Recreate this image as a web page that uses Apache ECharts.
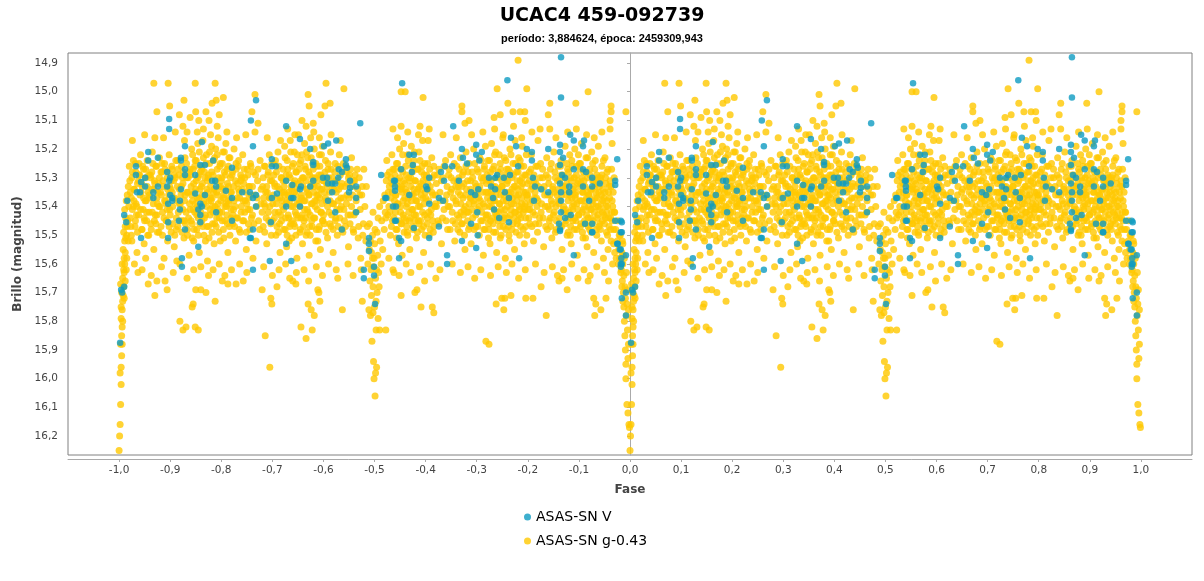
<!DOCTYPE html>
<html>
<head>
<meta charset="utf-8">
<title>UCAC4 459-092739</title>
<script src="https://cdn.jsdelivr.net/npm/echarts@6.0.0/dist/echarts.min.js"></script>
<style>
  html, body { margin: 0; padding: 0; background: #fff; }
  #chart { width: 1204px; height: 581px; }
</style>
</head>
<body>
<div id="chart"></div>
<script>
// Light curve of UCAC4 459-092739, folded on the period.
// Points are [phase, magnitude] for phase 0..1; the chart shows them twice (-1..0 and 0..1).

const titleText = 'UCAC4 459-092739';
const subtitleText = 'período: 3,884624, época: 2459309,943';
const seriesNames = ['ASAS-SN V', 'ASAS-SN g-0.43'];

// ASAS-SN g (shifted by -0.43): primary minimum (egress then ingress)
const gPrimaryMin = [
  [0.000,16.25],[0.001,16.20],[0.002,16.16],[0.003,16.09],[0.004,16.02],[0.004,15.96],[0.005,15.92],[0.003,15.88],
  [0.005,15.85],[0.006,15.82],[0.004,15.79],[0.006,15.76],[0.007,15.73],[0.005,15.70],[0.008,15.68],[0.007,15.65],
  [0.009,15.62],[0.006,15.60],[0.010,15.58],[0.008,15.55],[0.011,15.52],[0.009,15.49],[0.012,15.47],[0.013,15.44],
  [0.011,15.41],[0.014,15.38],[0.016,15.36],[0.015,15.50],[0.017,15.45],[0.018,15.33],[0.019,15.40],[0.012,15.66],
  [0.010,15.72],[0.007,15.80],[0.002,15.98],[0.006,15.88],[0.004,15.75],[0.008,15.71],[0.003,15.67],[0.010,15.63],
  [0.012,15.56],[0.014,15.62],[0.013,15.51],[0.016,15.47],[0.015,15.58],[0.018,15.52],[0.011,15.60],[0.009,15.68],
  [0.970,15.42],[0.972,15.48],[0.975,15.52],[0.976,15.45],[0.978,15.55],[0.980,15.58],[0.981,15.50],[0.983,15.62],
  [0.984,15.56],[0.985,15.66],[0.986,15.60],[0.987,15.70],[0.988,15.64],[0.988,15.75],[0.989,15.80],[0.990,15.68],
  [0.990,15.85],[0.991,15.90],[0.991,15.72],[0.992,15.95],[0.992,16.00],[0.993,15.78],[0.994,16.09],[0.995,15.83],
  [0.996,16.12],[0.997,15.88],[0.998,16.16],[0.999,16.17],[0.996,15.93],[0.994,15.74],[0.986,15.53],[0.989,15.58],
  [0.993,15.63],[0.995,15.69],[0.997,15.76],[0.977,15.60],[0.979,15.50],[0.982,15.63],[0.984,15.68],[0.986,15.73],
  [0.987,15.57],[0.985,15.52],[0.973,15.58]
];

// secondary minimum around phase 0.5
const gSecondaryMin = [
  [0.481,15.40],[0.483,15.52],[0.484,15.33],[0.486,15.47],[0.487,15.60],[0.489,15.76],[0.490,15.55],[0.491,15.66],
  [0.492,15.78],[0.493,15.62],[0.494,15.71],[0.495,15.87],[0.496,15.58],[0.497,15.68],[0.498,15.94],[0.499,16.00],
  [0.500,15.75],[0.501,16.06],[0.502,15.98],[0.502,15.65],[0.503,15.83],[0.504,15.96],[0.505,15.70],[0.506,15.57],
  [0.507,15.79],[0.508,15.63],[0.510,15.83],[0.511,15.52],[0.513,15.60],[0.514,15.45],[0.516,15.55],[0.517,15.38],
  [0.519,15.48],[0.522,15.83],[0.521,15.42],[0.496,15.50],[0.498,15.61],[0.500,15.53],[0.503,15.73],[0.497,15.77],
  [0.505,15.49],[0.492,15.52],[0.509,15.68],[0.490,15.46],[0.494,15.56],[0.497,15.42],[0.499,15.58],[0.501,15.48],
  [0.504,15.62],[0.507,15.44],[0.510,15.40]
];

// out-of-eclipse band, wide scatter
const gMaxima = [
  [0.021,15.31],[0.022,15.44],[0.024,15.37],[0.025,15.52],[0.026,15.28],[0.028,15.40],[0.029,15.34],[0.031,15.47],[0.032,15.25],[0.033,15.39],[0.035,15.56],[0.036,15.32],[0.038,15.43],[0.039,15.29],
  [0.041,15.36],[0.042,15.22],[0.044,15.48],[0.045,15.33],[0.047,15.41],[0.048,15.27],[0.049,15.53],[0.051,15.38],[0.052,15.30],[0.054,15.45],[0.055,15.24],[0.057,15.35],[0.058,15.50],[0.059,15.42],
  [0.061,15.29],[0.062,15.46],[0.064,15.34],[0.065,15.21],[0.067,15.39],[0.068,15.55],[0.069,15.31],[0.071,15.43],[0.072,15.26],[0.074,15.37],[0.075,15.49],[0.077,15.32],[0.078,15.40],[0.079,15.23],
  [0.081,15.35],[0.082,15.47],[0.084,15.28],[0.085,15.42],[0.087,15.33],[0.088,15.58],[0.089,15.25],[0.091,15.38],[0.092,15.45],[0.094,15.30],[0.095,15.52],[0.097,15.36],[0.098,15.22],[0.099,15.41],
  [0.101,15.34],[0.102,15.49],[0.104,15.27],[0.105,15.40],[0.107,15.31],[0.108,15.54],[0.109,15.37],[0.111,15.24],[0.112,15.44],[0.114,15.33],[0.115,15.47],[0.117,15.29],[0.118,15.39],[0.119,15.60],
  [0.121,15.36],[0.122,15.26],[0.124,15.45],[0.125,15.32],[0.127,15.51],[0.128,15.38],[0.129,15.23],[0.131,15.42],[0.132,15.30],[0.134,15.48],[0.135,15.35],[0.137,15.57],[0.138,15.28],[0.139,15.41],
  [0.141,15.33],[0.142,15.20],[0.143,15.46],[0.144,15.38],[0.145,15.27],[0.146,15.52],[0.147,15.35],[0.148,15.42],[0.149,15.24],[0.151,15.31],[0.152,15.48],[0.153,15.37],[0.154,15.18],[0.155,15.44],[0.156,15.29],[0.157,15.56],[0.158,15.34],[0.159,15.40],
  [0.161,15.26],[0.162,15.45],[0.163,15.32],[0.164,15.17],[0.165,15.39],[0.166,15.50],[0.167,15.28],[0.168,15.36],[0.169,15.43],[0.171,15.22],[0.172,15.34],[0.173,15.59],[0.174,15.30],[0.175,15.47],[0.176,15.38],[0.177,15.25],[0.178,15.41],[0.179,15.33],
  [0.181,15.19],[0.182,15.37],[0.183,15.46],[0.184,15.29],[0.185,15.35],[0.186,15.53],[0.187,15.23],[0.188,15.40],[0.189,15.31],[0.191,15.44],[0.192,15.27],[0.193,15.36],[0.194,15.16],[0.195,15.49],[0.196,15.33],[0.197,15.42],[0.198,15.25],[0.199,15.38],
  [0.201,15.30],[0.202,15.45],[0.203,15.21],[0.204,15.37],[0.205,15.51],[0.206,15.28],[0.207,15.40],[0.208,15.34],[0.209,15.18],[0.211,15.43],[0.212,15.32],[0.213,15.56],[0.214,15.26],[0.215,15.39],[0.216,15.47],[0.217,15.23],[0.218,15.35],[0.219,15.41],
  [0.221,15.29],[0.222,15.46],[0.224,15.33],[0.225,15.20],[0.227,15.40],[0.228,15.52],[0.229,15.27],[0.231,15.37],[0.232,15.44],[0.234,15.24],[0.235,15.35],[0.237,15.49],[0.238,15.31],[0.239,15.42],
  [0.241,15.34],[0.242,15.22],[0.244,15.45],[0.246,15.30],[0.247,15.38],[0.249,15.55],[0.251,15.27],[0.252,15.41],[0.254,15.33],[0.256,15.48],[0.257,15.25],[0.259,15.36],
  [0.261,15.43],[0.263,15.28],[0.266,15.36],[0.268,15.52],[0.271,15.31],[0.273,15.45],[0.276,15.24],[0.278,15.39],
  [0.281,15.33],[0.282,15.47],[0.284,15.26],[0.286,15.40],[0.287,15.35],[0.289,15.53],[0.291,15.29],[0.292,15.42],[0.294,15.22],[0.296,15.37],[0.297,15.46],[0.299,15.31],
  [0.301,15.39],[0.302,15.25],[0.304,15.44],[0.305,15.33],[0.307,15.50],[0.308,15.28],[0.309,15.37],[0.311,15.21],[0.312,15.42],[0.314,15.34],[0.315,15.56],[0.317,15.30],[0.318,15.45],[0.319,15.38],
  [0.321,15.27],[0.322,15.41],[0.323,15.35],[0.324,15.19],[0.325,15.48],[0.326,15.31],[0.327,15.39],[0.328,15.54],[0.329,15.24],[0.331,15.36],[0.332,15.44],[0.333,15.29],[0.334,15.38],[0.335,15.17],[0.336,15.46],[0.337,15.33],[0.338,15.51],[0.339,15.26],
  [0.341,15.40],[0.342,15.32],[0.343,15.21],[0.344,15.47],[0.345,15.36],[0.346,15.28],[0.347,15.43],[0.348,15.58],[0.349,15.34],[0.351,15.15],[0.352,15.39],[0.353,15.25],[0.354,15.49],[0.355,15.31],[0.356,15.44],[0.357,15.37],[0.358,15.22],[0.359,15.53],
  [0.361,15.30],[0.362,15.45],[0.363,15.18],[0.364,15.38],[0.365,15.27],[0.366,15.50],[0.367,15.34],[0.368,15.41],[0.369,15.23],[0.371,15.36],[0.372,15.57],[0.373,15.29],[0.374,15.43],[0.375,15.16],[0.376,15.39],[0.377,15.32],[0.378,15.47],[0.379,15.25],
  [0.381,15.35],[0.382,15.20],[0.383,15.44],[0.384,15.30],[0.385,15.52],[0.386,15.38],[0.387,15.26],[0.388,15.41],[0.389,15.33],[0.391,15.48],[0.392,15.22],[0.393,15.37],[0.394,15.55],[0.395,15.29],[0.396,15.42],[0.397,15.34],[0.398,15.19],[0.399,15.45],
  [0.401,15.31],[0.402,15.46],[0.404,15.24],[0.405,15.38],[0.407,15.33],[0.408,15.51],[0.409,15.27],[0.411,15.42],[0.412,15.35],[0.414,15.21],[0.415,15.47],[0.417,15.30],[0.418,15.39],[0.419,15.56],
  [0.421,15.34],[0.423,15.25],[0.424,15.44],[0.426,15.31],[0.427,15.50],[0.429,15.38],[0.431,15.22],[0.432,15.41],[0.434,15.33],[0.436,15.48],[0.437,15.28],[0.439,15.37],
  [0.441,15.45],[0.443,15.26],[0.445,15.39],[0.447,15.32],[0.449,15.54],[0.451,15.29],[0.453,15.43],[0.455,15.23],[0.457,15.36],[0.459,15.49],
  [0.461,15.31],[0.463,15.42],[0.466,15.27],[0.468,15.51],[0.471,15.36],[0.473,15.58],[0.476,15.33],[0.478,15.46],
  [0.523,15.31],[0.524,15.24],[0.526,15.43],[0.527,15.35],[0.529,15.28],[0.531,15.50],[0.532,15.37],[0.534,15.22],[0.535,15.45],[0.537,15.32],[0.538,15.40],[0.539,15.27],
  [0.541,15.36],[0.542,15.48],[0.543,15.25],[0.545,15.39],[0.546,15.31],[0.547,15.53],[0.549,15.20],[0.551,15.42],[0.552,15.34],[0.553,15.46],[0.555,15.28],[0.556,15.38],[0.557,15.18],[0.558,15.44],[0.559,15.32],[0.554,15.57],
  [0.561,15.26],[0.562,15.40],[0.563,15.35],[0.564,15.49],[0.565,15.22],[0.566,15.37],[0.567,15.30],[0.568,15.45],[0.569,15.55],[0.571,15.33],[0.572,15.19],[0.573,15.41],[0.574,15.28],[0.575,15.47],[0.576,15.36],[0.577,15.24],[0.578,15.43],[0.579,15.31],
  [0.581,15.38],[0.582,15.51],[0.583,15.27],[0.585,15.34],[0.586,15.45],[0.587,15.21],[0.589,15.40],[0.591,15.32],[0.592,15.48],[0.593,15.26],[0.595,15.37],[0.596,15.56],[0.597,15.29],[0.598,15.43],[0.599,15.35],[0.594,15.17],
  [0.601,15.30],[0.603,15.44],[0.604,15.25],[0.606,15.38],[0.607,15.50],[0.609,15.33],[0.611,15.41],[0.612,15.23],[0.614,15.36],[0.616,15.47],[0.617,15.29],[0.619,15.39],
  [0.621,15.32],[0.624,15.45],[0.626,15.27],[0.629,15.38],[0.631,15.53],[0.634,15.30],[0.636,15.41],[0.639,15.24],
  [0.641,15.36],[0.643,15.48],[0.645,15.29],[0.647,15.40],[0.649,15.22],[0.651,15.34],[0.653,15.45],[0.655,15.31],[0.657,15.52],[0.659,15.38],
  [0.661,15.26],[0.662,15.43],[0.664,15.35],[0.665,15.30],[0.667,15.49],[0.668,15.23],[0.669,15.39],[0.671,15.33],[0.672,15.46],[0.674,15.28],[0.675,15.41],[0.677,15.55],[0.678,15.36],[0.679,15.21],
  [0.681,15.42],[0.682,15.31],[0.684,15.48],[0.685,15.25],[0.687,15.37],[0.688,15.34],[0.689,15.53],[0.691,15.28],[0.692,15.44],[0.694,15.20],[0.695,15.39],[0.697,15.32],[0.698,15.47],[0.699,15.36],
  [0.701,15.27],[0.702,15.41],[0.703,15.34],[0.705,15.50],[0.706,15.23],[0.707,15.38],[0.709,15.30],[0.711,15.45],[0.712,15.35],[0.713,15.57],[0.715,15.26],[0.716,15.40],[0.717,15.19],[0.718,15.43],[0.719,15.32],[0.714,15.48],
  [0.721,15.37],[0.722,15.24],[0.723,15.46],[0.724,15.31],[0.725,15.40],[0.726,15.53],[0.727,15.28],[0.728,15.35],[0.729,15.18],[0.731,15.44],[0.732,15.33],[0.733,15.49],[0.734,15.26],[0.735,15.38],[0.736,15.42],[0.737,15.21],[0.738,15.36],[0.739,15.56],
  [0.741,15.30],[0.742,15.45],[0.743,15.34],[0.744,15.22],[0.745,15.39],[0.746,15.51],[0.747,15.27],[0.748,15.41],[0.749,15.33],[0.751,15.16],[0.752,15.47],[0.753,15.36],[0.754,15.29],[0.755,15.43],[0.756,15.58],[0.757,15.24],[0.758,15.38],[0.759,15.32],
  [0.761,15.44],[0.762,15.27],[0.763,15.37],[0.764,15.52],[0.765,15.20],[0.766,15.35],[0.767,15.41],[0.768,15.30],[0.769,15.48],[0.771,15.25],[0.772,15.39],[0.773,15.33],[0.774,15.55],[0.775,15.17],[0.776,15.42],[0.777,15.36],[0.778,15.28],[0.779,15.46],
  [0.781,15.34],[0.782,15.23],[0.783,15.40],[0.784,15.50],[0.785,15.31],[0.786,15.44],[0.787,15.26],[0.788,15.37],[0.789,15.19],[0.791,15.42],[0.792,15.35],[0.793,15.53],[0.794,15.29],[0.795,15.39],[0.796,15.47],[0.797,15.22],[0.798,15.36],[0.799,15.32],
  [0.801,15.41],[0.803,15.28],[0.804,15.46],[0.806,15.34],[0.807,15.22],[0.809,15.38],[0.811,15.52],[0.812,15.31],[0.814,15.43],[0.816,15.26],[0.817,15.37],[0.819,15.49],
  [0.821,15.33],[0.823,15.44],[0.825,15.25],[0.827,15.39],[0.829,15.30],[0.831,15.54],[0.833,15.36],[0.835,15.47],[0.837,15.23],[0.839,15.40],
  [0.841,15.32],[0.842,15.45],[0.844,15.27],[0.846,15.38],[0.847,15.51],[0.849,15.34],[0.851,15.21],[0.852,15.42],[0.854,15.30],[0.856,15.48],[0.857,15.36],[0.859,15.26],
  [0.861,15.39],[0.862,15.31],[0.863,15.47],[0.865,15.24],[0.866,15.36],[0.867,15.55],[0.869,15.29],[0.871,15.42],[0.872,15.34],[0.873,15.19],[0.875,15.45],[0.876,15.32],[0.877,15.50],[0.878,15.27],[0.879,15.38],[0.874,15.41],
  [0.881,15.35],[0.882,15.22],[0.883,15.44],[0.884,15.30],[0.885,15.53],[0.886,15.37],[0.887,15.26],[0.888,15.41],[0.889,15.33],[0.891,15.48],[0.892,15.20],[0.893,15.36],[0.894,15.45],[0.895,15.29],[0.896,15.39],[0.897,15.57],[0.898,15.31],[0.899,15.43],
  [0.901,15.25],[0.902,15.38],[0.903,15.47],[0.904,15.32],[0.905,15.18],[0.906,15.42],[0.907,15.35],[0.908,15.51],[0.909,15.28],[0.911,15.40],[0.912,15.33],[0.913,15.46],[0.914,15.23],[0.915,15.37],[0.916,15.54],[0.917,15.30],[0.918,15.44],[0.919,15.36],
  [0.921,15.27],[0.922,15.41],[0.923,15.34],[0.924,15.49],[0.925,15.21],[0.926,15.38],[0.927,15.31],[0.928,15.45],[0.929,15.56],[0.931,15.33],[0.932,15.24],[0.933,15.40],[0.934,15.48],[0.935,15.29],[0.936,15.37],[0.937,15.43],[0.938,15.19],[0.939,15.35],
  [0.941,15.46],[0.942,15.30],[0.943,15.39],[0.944,15.52],[0.945,15.26],[0.946,15.42],[0.947,15.34],[0.948,15.58],[0.949,15.37],[0.951,15.23],[0.952,15.44],[0.953,15.32],[0.954,15.49],[0.955,15.28],[0.956,15.40],[0.957,15.55],[0.958,15.35],[0.959,15.47],
  [0.961,15.31],[0.962,15.44],[0.963,15.52],[0.964,15.27],[0.965,15.38],[0.966,15.60],[0.967,15.35],[0.968,15.48],[0.969,15.42],[0.970,15.56]
];

// out-of-eclipse band, dense core
const gMaximaCore = [
  [0.020,15.26],[0.022,15.35],[0.023,15.47],[0.025,15.30],[0.026,15.41],[0.028,15.24],[0.029,15.38],[0.024,15.50],
  [0.030,15.34],[0.032,15.45],[0.033,15.28],[0.035,15.40],[0.036,15.49],[0.038,15.31],[0.039,15.25],[0.034,15.43],
  [0.040,15.29],[0.042,15.41],[0.043,15.35],[0.045,15.48],[0.046,15.26],[0.048,15.37],[0.049,15.44],[0.044,15.32],
  [0.050,15.45],[0.052,15.27],[0.053,15.38],[0.055,15.33],[0.056,15.50],[0.058,15.29],[0.059,15.36],[0.054,15.42],
  [0.060,15.37],[0.062,15.30],[0.063,15.48],[0.065,15.42],[0.066,15.25],[0.068,15.34],[0.069,15.45],[0.064,15.28],
  [0.070,15.32],[0.072,15.46],[0.073,15.26],[0.075,15.39],[0.076,15.35],[0.078,15.49],[0.079,15.30],[0.074,15.43],
  [0.080,15.40],[0.082,15.28],[0.083,15.36],[0.085,15.50],[0.086,15.31],[0.088,15.44],[0.089,15.38],[0.084,15.25],
  [0.090,15.27],[0.092,15.39],[0.093,15.45],[0.095,15.34],[0.096,15.28],[0.098,15.47],[0.099,15.33],[0.094,15.41],
  [0.100,15.43],[0.102,15.31],[0.103,15.26],[0.105,15.46],[0.106,15.37],[0.108,15.29],[0.109,15.50],[0.104,15.35],
  [0.110,15.30],[0.112,15.48],[0.113,15.38],[0.115,15.27],[0.116,15.42],[0.118,15.34],[0.119,15.45],[0.114,15.24],
  [0.120,15.39],[0.122,15.33],[0.123,15.49],[0.125,15.41],[0.126,15.28],[0.128,15.45],[0.129,15.36],[0.124,15.30],
  [0.130,15.46],[0.132,15.25],[0.133,15.35],[0.135,15.30],[0.136,15.44],[0.138,15.39],[0.139,15.27],[0.134,15.50],
  [0.140,15.29],[0.141,15.45],[0.142,15.36],[0.144,15.22],[0.145,15.41],[0.146,15.32],[0.147,15.48],[0.148,15.26],[0.149,15.39],[0.143,15.51],
  [0.150,15.34],[0.151,15.24],[0.152,15.43],[0.154,15.30],[0.155,15.50],[0.156,15.37],[0.157,15.21],[0.158,15.46],[0.159,15.28],[0.153,15.40],
  [0.160,15.42],[0.161,15.33],[0.162,15.27],[0.164,15.47],[0.165,15.23],[0.166,15.38],[0.167,15.44],[0.168,15.30],[0.169,15.52],[0.163,15.36],
  [0.170,15.25],[0.171,15.40],[0.172,15.47],[0.174,15.35],[0.175,15.29],[0.176,15.51],[0.177,15.21],[0.178,15.43],[0.179,15.37],[0.173,15.31],
  [0.180,15.38],[0.181,15.28],[0.182,15.49],[0.184,15.42],[0.185,15.24],[0.186,15.34],[0.187,15.46],[0.188,15.31],[0.189,15.20],[0.183,15.40],
  [0.190,15.47],[0.191,15.35],[0.192,15.22],[0.194,15.39],[0.195,15.30],[0.196,15.44],[0.197,15.26],[0.198,15.52],[0.199,15.33],[0.193,15.41],
  [0.200,15.31],[0.201,15.42],[0.202,15.25],[0.204,15.48],[0.205,15.36],[0.206,15.21],[0.207,15.45],[0.208,15.29],[0.209,15.39],[0.203,15.34],
  [0.210,15.40],[0.211,15.27],[0.212,15.46],[0.214,15.33],[0.215,15.23],[0.216,15.37],[0.217,15.50],[0.218,15.30],[0.219,15.44],[0.213,15.38],
  [0.220,15.35],[0.222,15.28],[0.223,15.43],[0.225,15.38],[0.226,15.47],[0.228,15.31],[0.229,15.25],[0.224,15.41],
  [0.230,15.44],[0.232,15.32],[0.233,15.26],[0.235,15.48],[0.236,15.37],[0.238,15.29],[0.239,15.40],[0.234,15.34],
  [0.240,15.30],[0.242,15.45],[0.243,15.38],[0.245,15.27],[0.246,15.42],[0.248,15.35],[0.249,15.49],[0.244,15.32],
  [0.250,15.39],[0.252,15.29],[0.253,15.46],[0.255,15.33],[0.256,15.41],[0.258,15.26],[0.259,15.44],[0.254,15.37],
  [0.261,15.33],[0.264,15.46],[0.267,15.29],[0.269,15.40],[0.270,15.37],[0.272,15.27],[0.275,15.48],[0.278,15.34],
  [0.280,15.42],[0.282,15.30],[0.283,15.37],[0.285,15.49],[0.286,15.26],[0.288,15.44],[0.289,15.33],[0.284,15.39],
  [0.290,15.35],[0.292,15.28],[0.293,15.45],[0.295,15.40],[0.296,15.31],[0.298,15.50],[0.299,15.25],[0.294,15.37],
  [0.300,15.45],[0.302,15.36],[0.303,15.29],[0.305,15.42],[0.306,15.24],[0.308,15.39],[0.309,15.47],[0.304,15.32],
  [0.310,15.33],[0.312,15.49],[0.313,15.26],[0.315,15.37],[0.316,15.43],[0.318,15.30],[0.319,15.35],[0.314,15.46],
  [0.320,15.40],[0.321,15.31],[0.322,15.48],[0.324,15.36],[0.325,15.23],[0.326,15.44],[0.327,15.29],[0.328,15.38],[0.329,15.50],[0.323,15.33],
  [0.330,15.27],[0.331,15.43],[0.332,15.35],[0.334,15.47],[0.335,15.30],[0.336,15.21],[0.337,15.40],[0.338,15.34],[0.339,15.45],[0.333,15.52],
  [0.340,15.37],[0.341,15.25],[0.342,15.46],[0.344,15.31],[0.345,15.42],[0.346,15.50],[0.347,15.28],[0.348,15.39],[0.349,15.22],[0.343,15.35],
  [0.350,15.44],[0.351,15.32],[0.352,15.27],[0.354,15.40],[0.355,15.48],[0.356,15.24],[0.357,15.36],[0.358,15.43],[0.359,15.30],[0.353,15.38],
  [0.360,15.33],[0.361,15.47],[0.362,15.38],[0.364,15.26],[0.365,15.44],[0.366,15.31],[0.367,15.21],[0.368,15.49],[0.369,15.35],[0.363,15.41],
  [0.370,15.42],[0.371,15.28],[0.372,15.36],[0.374,15.50],[0.375,15.33],[0.376,15.23],[0.377,15.45],[0.378,15.39],[0.379,15.30],[0.373,15.47],
  [0.380,15.27],[0.381,15.44],[0.382,15.33],[0.384,15.40],[0.385,15.25],[0.386,15.48],[0.387,15.36],[0.388,15.31],[0.389,15.52],[0.383,15.38],
  [0.390,15.36],[0.391,15.29],[0.392,15.47],[0.394,15.34],[0.395,15.42],[0.396,15.22],[0.397,15.39],[0.398,15.45],[0.399,15.31],[0.393,15.26],
  [0.400,15.43],[0.402,15.35],[0.403,15.28],[0.405,15.49],[0.406,15.32],[0.408,15.40],[0.409,15.25],[0.404,15.37],
  [0.410,15.30],[0.412,15.46],[0.413,15.38],[0.415,15.27],[0.416,15.43],[0.418,15.34],[0.419,15.48],[0.414,15.32],
  [0.420,15.39],[0.422,15.28],[0.423,15.45],[0.425,15.35],[0.426,15.41],[0.428,15.26],[0.429,15.47],[0.424,15.31],
  [0.430,15.34],[0.432,15.44],[0.433,15.29],[0.435,15.40],[0.436,15.32],[0.438,15.49],[0.439,15.25],[0.434,15.37],
  [0.440,15.41],[0.442,15.33],[0.443,15.47],[0.445,15.28],[0.446,15.36],[0.448,15.43],[0.449,15.30],
  [0.450,15.37],[0.452,15.46],[0.453,15.27],[0.455,15.40],[0.456,15.33],[0.458,15.48],[0.459,15.31],
  [0.460,15.43],[0.462,15.29],[0.464,15.38],[0.467,15.34],[0.469,15.47],
  [0.470,15.30],[0.472,15.41],[0.475,15.36],[0.477,15.50],[0.479,15.27],
  [0.520,15.36],[0.522,15.44],[0.525,15.29],[0.528,15.40],[0.529,15.33],
  [0.530,15.42],[0.532,15.30],[0.533,15.47],[0.535,15.35],[0.536,15.27],[0.538,15.44],[0.539,15.38],[0.534,15.32],
  [0.540,15.29],[0.541,15.42],[0.542,15.36],[0.544,15.48],[0.545,15.25],[0.546,15.39],[0.547,15.33],[0.548,15.45],[0.549,15.30],[0.543,15.51],
  [0.550,15.40],[0.551,15.27],[0.552,15.46],[0.554,15.35],[0.555,15.22],[0.556,15.43],[0.557,15.31],[0.558,15.49],[0.559,15.37],[0.553,15.33],
  [0.560,15.34],[0.561,15.45],[0.562,15.29],[0.564,15.39],[0.565,15.50],[0.566,15.24],[0.567,15.42],[0.568,15.36],[0.569,15.31],[0.563,15.47],
  [0.570,15.44],[0.571,15.30],[0.572,15.38],[0.574,15.26],[0.575,15.41],[0.576,15.48],[0.577,15.34],[0.578,15.21],[0.579,15.45],[0.573,15.36],
  [0.580,15.31],[0.581,15.43],[0.582,15.35],[0.584,15.49],[0.585,15.27],[0.586,15.40],[0.587,15.46],[0.588,15.33],[0.589,15.24],[0.583,15.38],
  [0.590,15.45],[0.591,15.36],[0.592,15.28],[0.594,15.42],[0.595,15.31],[0.596,15.47],[0.597,15.39],[0.598,15.25],[0.599,15.50],[0.593,15.34],
  [0.600,15.37],[0.602,15.29],[0.603,15.46],[0.605,15.34],[0.606,15.42],[0.608,15.27],[0.609,15.48],[0.604,15.32],
  [0.610,15.43],[0.612,15.35],[0.613,15.30],[0.615,15.49],[0.616,15.26],[0.618,15.40],[0.619,15.36],[0.614,15.45],
  [0.621,15.40],[0.623,15.29],[0.626,15.46],[0.628,15.35],[0.631,15.31],[0.633,15.44],[0.636,15.26],[0.638,15.38],
  [0.640,15.45],[0.642,15.33],[0.644,15.40],[0.646,15.27],[0.648,15.48],[0.649,15.35],
  [0.650,15.30],[0.652,15.42],[0.654,15.37],[0.656,15.25],[0.658,15.46],[0.659,15.33],
  [0.660,15.39],[0.662,15.31],[0.663,15.48],[0.665,15.44],[0.666,15.27],[0.668,15.36],[0.669,15.42],[0.664,15.33],
  [0.670,15.46],[0.672,15.29],[0.673,15.37],[0.675,15.32],[0.676,15.50],[0.678,15.40],[0.679,15.26],[0.674,15.43],
  [0.680,15.34],[0.682,15.45],[0.683,15.28],[0.685,15.39],[0.686,15.47],[0.688,15.31],[0.689,15.37],[0.684,15.42],
  [0.690,15.41],[0.692,15.30],[0.693,15.36],[0.695,15.48],[0.696,15.25],[0.698,15.43],[0.699,15.33],[0.694,15.38],
  [0.700,15.35],[0.702,15.47],[0.703,15.28],[0.705,15.40],[0.706,15.33],[0.708,15.45],[0.709,15.24],[0.704,15.37],
  [0.710,15.42],[0.712,15.31],[0.713,15.39],[0.715,15.27],[0.716,15.48],[0.718,15.35],[0.719,15.44],[0.714,15.30],
  [0.720,15.29],[0.721,15.43],[0.722,15.35],[0.724,15.48],[0.725,15.24],[0.726,15.38],[0.727,15.45],[0.728,15.31],[0.729,15.40],[0.723,15.51],
  [0.730,15.36],[0.731,15.27],[0.732,15.46],[0.734,15.41],[0.735,15.22],[0.736,15.33],[0.737,15.49],[0.738,15.30],[0.739,15.43],[0.733,15.38],
  [0.740,15.44],[0.741,15.34],[0.742,15.28],[0.744,15.39],[0.745,15.47],[0.746,15.25],[0.747,15.36],[0.748,15.50],[0.749,15.31],[0.743,15.42],
  [0.750,15.33],[0.751,15.45],[0.752,15.38],[0.754,15.23],[0.755,15.41],[0.756,15.30],[0.757,15.48],[0.758,15.35],[0.759,15.27],[0.753,15.44],
  [0.760,15.40],[0.761,15.31],[0.762,15.47],[0.764,15.36],[0.765,15.28],[0.766,15.43],[0.767,15.22],[0.768,15.39],[0.769,15.34],[0.763,15.50],
  [0.770,15.37],[0.771,15.46],[0.772,15.29],[0.774,15.42],[0.775,15.33],[0.776,15.25],[0.777,15.49],[0.778,15.38],[0.779,15.31],[0.773,15.44],
  [0.780,15.45],[0.781,15.28],[0.782,15.36],[0.784,15.41],[0.785,15.24],[0.786,15.47],[0.787,15.33],[0.788,15.39],[0.789,15.30],[0.783,15.43],
  [0.790,15.32],[0.791,15.48],[0.792,15.26],[0.794,15.40],[0.795,15.35],[0.796,15.44],[0.797,15.29],[0.798,15.50],[0.799,15.37],[0.793,15.41],
  [0.800,15.36],[0.802,15.44],[0.803,15.31],[0.805,15.39],[0.806,15.27],[0.808,15.47],[0.809,15.33],[0.804,15.41],
  [0.810,15.42],[0.812,15.29],[0.813,15.37],[0.815,15.46],[0.816,15.32],[0.818,15.40],[0.819,15.26],[0.814,15.35],
  [0.820,15.38],[0.822,15.46],[0.824,15.30],[0.826,15.42],[0.828,15.34],[0.829,15.27],
  [0.830,15.44],[0.832,15.33],[0.834,15.40],[0.836,15.29],[0.838,15.48],[0.839,15.36],
  [0.840,15.30],[0.842,15.41],[0.843,15.36],[0.845,15.47],[0.846,15.25],[0.848,15.39],[0.849,15.33],[0.844,15.44],
  [0.850,15.43],[0.852,15.35],[0.853,15.28],[0.855,15.40],[0.856,15.45],[0.858,15.31],[0.859,15.38],[0.854,15.49],
  [0.860,15.34],[0.862,15.44],[0.863,15.38],[0.865,15.29],[0.866,15.47],[0.868,15.33],[0.869,15.41],[0.864,15.26],
  [0.870,15.40],[0.872,15.30],[0.873,15.46],[0.875,15.36],[0.876,15.25],[0.878,15.43],[0.879,15.49],[0.874,15.33],
  [0.880,15.28],[0.881,15.42],[0.882,15.36],[0.884,15.47],[0.885,15.31],[0.886,15.24],[0.887,15.40],[0.888,15.45],[0.889,15.34],[0.883,15.50],
  [0.890,15.39],[0.891,15.30],[0.892,15.44],[0.894,15.35],[0.895,15.26],[0.896,15.48],[0.897,15.32],[0.898,15.41],[0.899,15.22],[0.893,15.37],
  [0.900,15.43],[0.901,15.33],[0.902,15.27],[0.904,15.46],[0.905,15.38],[0.906,15.30],[0.907,15.49],[0.908,15.35],[0.909,15.41],[0.903,15.25],
  [0.910,15.31],[0.911,15.45],[0.912,15.38],[0.914,15.28],[0.915,15.43],[0.916,15.35],[0.917,15.23],[0.918,15.47],[0.919,15.40],[0.913,15.51],
  [0.920,15.36],[0.921,15.48],[0.922,15.29],[0.924,15.41],[0.925,15.34],[0.926,15.46],[0.927,15.25],[0.928,15.39],[0.929,15.31],[0.923,15.44],
  [0.930,15.42],[0.931,15.27],[0.932,15.37],[0.934,15.32],[0.935,15.50],[0.936,15.44],[0.937,15.30],[0.938,15.40],[0.939,15.47],[0.933,15.35],
  [0.940,15.33],[0.941,15.41],[0.942,15.48],[0.944,15.36],[0.945,15.29],[0.946,15.45],[0.947,15.38],[0.948,15.24],[0.949,15.43],[0.943,15.31],
  [0.950,15.46],[0.951,15.35],[0.952,15.30],[0.954,15.42],[0.955,15.38],[0.956,15.50],[0.957,15.27],[0.958,15.44],[0.959,15.33],[0.953,15.40],
  [0.960,15.37],[0.962,15.48],[0.963,15.33],[0.965,15.45],[0.966,15.40],[0.968,15.53],[0.969,15.30],[0.964,15.42]
];

// thinner edges of the band
const gFringe = [
  [0.030,15.60],[0.045,15.62],[0.052,15.58],[0.063,15.64],[0.083,15.61],[0.090,15.66],[0.106,15.63],[0.113,15.59],
  [0.133,15.65],[0.146,15.62],[0.160,15.61],[0.175,15.64],[0.184,15.62],[0.196,15.60],[0.207,15.64],[0.220,15.62],
  [0.236,15.60],[0.250,15.63],[0.262,15.58],[0.283,15.61],[0.300,15.64],[0.313,15.62],[0.326,15.60],[0.334,15.65],
  [0.347,15.63],[0.362,15.62],[0.371,15.66],[0.386,15.61],[0.398,15.64],[0.410,15.60],[0.425,15.62],[0.448,15.60],
  [0.458,15.64],[0.474,15.62],[0.528,15.58],[0.536,15.62],[0.548,15.64],[0.562,15.60],[0.571,15.63],[0.588,15.61],
  [0.598,15.66],[0.610,15.60],[0.628,15.62],[0.652,15.60],[0.668,15.63],[0.683,15.61],[0.696,15.65],[0.708,15.62],
  [0.727,15.64],[0.742,15.61],[0.758,15.63],[0.769,15.60],[0.782,15.65],[0.795,15.62],[0.815,15.60],[0.832,15.63],
  [0.848,15.61],[0.858,15.64],[0.870,15.62],[0.886,15.60],[0.898,15.65],[0.910,15.62],[0.922,15.64],[0.935,15.61],
  [0.950,15.63],[0.958,15.66],
  [0.026,15.17],[0.050,15.15],[0.087,15.16],[0.110,15.14],[0.128,15.17],[0.165,15.13],[0.179,15.15],[0.192,15.12],
  [0.211,15.14],[0.230,15.16],[0.248,15.15],[0.290,15.16],[0.316,15.17],[0.330,15.13],[0.344,15.15],[0.366,15.12],
  [0.381,15.14],[0.392,15.16],[0.415,15.15],[0.433,15.17],[0.545,15.16],[0.565,15.14],[0.586,15.15],[0.605,15.17],
  [0.660,15.16],[0.690,15.15],[0.712,15.14],[0.735,15.13],[0.752,15.15],[0.772,15.12],[0.788,15.16],[0.820,15.17],
  [0.855,15.16],[0.878,15.14],[0.895,15.13],[0.915,15.15],[0.930,15.16],[0.945,15.14],[0.965,15.18]
];

// isolated points above and below the band
const gOutliers = [
  [0.068,14.97],[0.096,14.97],[0.149,14.97],[0.188,14.97],[0.405,14.97],[0.440,14.99],[0.266,15.01],[0.370,15.01],
  [0.992,15.07],[0.074,15.07],[0.099,15.05],[0.127,15.03],[0.182,15.04],[0.190,15.03],[0.204,15.02],[0.170,15.07],
  [0.150,15.07],[0.118,15.08],[0.196,15.08],[0.139,15.09],[0.156,15.10],[0.176,15.10],[0.260,15.07],[0.272,15.11],
  [0.266,15.14],[0.372,15.05],[0.413,15.04],[0.403,15.05],[0.395,15.08],[0.536,15.13],[0.125,15.12],[0.070,15.16],
  [0.133,15.14],[0.153,15.14],[0.358,15.10],[0.380,15.11],
  [0.781,14.89],[0.740,14.99],[0.798,14.99],[0.761,15.04],[0.918,15.00],[0.894,15.04],[0.843,15.04],[0.771,15.07],
  [0.785,15.07],[0.794,15.07],[0.795,15.10],[0.552,15.00],[0.560,15.00],[0.595,15.02],[0.671,15.05],[0.671,15.07],
  [0.685,15.10],[0.677,15.11],[0.734,15.09],[0.746,15.08],[0.963,15.05],[0.963,15.07],[0.961,15.10],[0.961,15.13],
  [0.840,15.08],[0.552,15.12],[0.589,15.12],[0.607,15.13],[0.634,15.15],[0.824,15.13],[0.843,15.13],[0.808,15.14],
  [0.119,15.80],[0.125,15.83],[0.131,15.82],[0.149,15.82],[0.155,15.83],[0.143,15.75],[0.145,15.74],[0.070,15.71],
  [0.057,15.67],[0.094,15.69],[0.074,15.66],[0.286,15.85],[0.295,15.96],[0.297,15.72],[0.299,15.74],[0.356,15.82],
  [0.378,15.83],[0.366,15.86],[0.437,15.76],[0.370,15.74],[0.376,15.76],[0.382,15.78],[0.280,15.69],[0.309,15.68],
  [0.188,15.73],[0.170,15.70],[0.202,15.66],[0.213,15.67],[0.243,15.66],[0.229,15.67],[0.037,15.63],[0.150,15.69],
  [0.160,15.69],[0.393,15.73],[0.476,15.73],[0.340,15.66],[0.346,15.67],[0.389,15.69],[0.391,15.70],[0.428,15.65],
  [0.718,15.87],[0.724,15.88],[0.591,15.75],[0.613,15.75],[0.616,15.77],[0.738,15.74],[0.753,15.76],[0.836,15.78],
  [0.931,15.78],[0.943,15.76],[0.933,15.74],[0.929,15.72],[0.953,15.72],[0.796,15.72],[0.810,15.72],[0.552,15.71],
  [0.579,15.70],[0.583,15.69],[0.620,15.65],[0.755,15.72],[0.749,15.72],[0.767,15.71],[0.826,15.68],[0.877,15.69],
  [0.918,15.66],[0.861,15.66],[0.867,15.65],[0.538,15.63]
];

// ASAS-SN V
const vPoints = [
  [0.002,15.875],[0.004,15.69],[0.006,15.70],[0.010,15.68],[0.980,15.55],[0.984,15.60],[0.992,15.70],[0.992,15.78],
  [0.982,15.49],[0.975,15.53],[0.982,15.55],[0.992,15.57],[0.983,15.58],[0.982,15.60],[0.982,15.61],[0.984,15.72],
  [0.501,15.74],[0.499,15.64],[0.499,15.61],[0.479,15.62],[0.479,15.65],[0.489,15.51],[0.489,15.53],[0.489,15.555],
  [0.262,15.62],[0.295,15.59],[0.337,15.59],[0.123,15.58],[0.123,15.61],[0.155,15.54],[0.096,15.51],[0.043,15.51],
  [0.327,15.53],[0.256,15.51],[0.548,15.51],[0.552,15.52],[0.548,15.58],[0.607,15.51],[0.642,15.57],[0.642,15.60],
  [0.671,15.52],[0.699,15.545],[0.702,15.50],[0.783,15.58],[0.863,15.485],[0.890,15.57],[0.926,15.49],
  [0.865,14.88],[0.760,14.96],[0.554,14.97],[0.865,15.02],[0.654,15.12],[0.883,15.15],[0.268,15.03],[0.258,15.10],
  [0.098,15.095],[0.098,15.13],[0.472,15.11],[0.327,15.12],[0.262,15.19],[0.354,15.165],[0.374,15.20],[0.129,15.19],
  [0.162,15.175],[0.057,15.21],[0.076,15.23],[0.425,15.17],[0.409,15.18],[0.401,15.19],
  [0.984,15.455],[0.984,15.49],[0.016,15.38],[0.010,15.43],[0.014,15.455],
  [0.033,15.26],[0.033,15.29],[0.043,15.315],[0.051,15.30],[0.051,15.33],[0.035,15.35],[0.041,15.35],
  [0.057,15.24],[0.076,15.33],[0.067,15.35],[0.067,15.37],
  [0.094,15.28],[0.100,15.30],[0.098,15.31],[0.094,15.33],[0.100,15.36],[0.104,15.37],[0.104,15.38],[0.096,15.39],[0.096,15.455],
  [0.121,15.23],[0.121,15.24],[0.129,15.27],[0.129,15.29],[0.121,15.34],[0.119,15.38],[0.119,15.41],[0.117,15.45],[0.129,15.48],
  [0.149,15.29],[0.159,15.255],[0.168,15.255],[0.149,15.355],[0.159,15.39],[0.162,15.40],[0.155,15.41],[0.159,15.43],[0.159,15.455],[0.168,15.36],
  [0.184,15.24],[0.182,15.31],[0.188,15.31],[0.190,15.33],[0.190,15.42],[0.209,15.345],[0.221,15.265],[0.221,15.37],
  [0.221,15.45],[0.241,15.35],[0.256,15.35],[0.262,15.37],[0.268,15.36],[0.268,15.40],[0.262,15.48],[0.258,15.51],
  [0.299,15.235],[0.307,15.26],[0.299,15.26],[0.299,15.37],[0.297,15.455],
  [0.309,15.355],[0.327,15.31],[0.327,15.40],[0.337,15.37],[0.339,15.325],[0.341,15.37],
  [0.354,15.34],[0.354,15.40],[0.356,15.33],[0.374,15.33],[0.380,15.245],[0.380,15.255],[0.380,15.31],
  [0.399,15.30],[0.407,15.30],[0.409,15.32],[0.409,15.38],[0.417,15.32],[0.423,15.32],[0.417,15.35],[0.423,15.42],
  [0.430,15.27],[0.429,15.30],[0.436,15.28],[0.444,15.235],[0.444,15.255],[0.446,15.265],[0.452,15.31],[0.452,15.335],
  [0.450,15.35],[0.464,15.33],[0.464,15.37],[0.464,15.42],[0.436,15.48],
  [0.513,15.29],[0.521,15.37],[0.523,15.37],[0.540,15.31],[0.540,15.345],[0.542,15.40],[0.540,15.45],
  [0.568,15.22],[0.577,15.22],[0.552,15.27],[0.538,15.31],[0.540,15.33],[0.573,15.28],[0.575,15.255],
  [0.607,15.30],[0.601,15.33],[0.603,15.34],[0.568,15.36],[0.536,15.40],[0.542,15.45],[0.577,15.475],
  [0.630,15.28],[0.638,15.26],[0.652,15.26],[0.671,15.20],[0.673,15.23],[0.681,15.25],
  [0.699,15.185],[0.699,15.22],[0.705,15.24],[0.710,15.21],
  [0.665,15.31],[0.636,15.31],[0.626,15.37],[0.634,15.38],[0.607,15.39],[0.626,15.47],
  [0.689,15.35],[0.703,15.34],[0.697,15.36],[0.701,15.42],[0.689,15.46],
  [0.724,15.30],[0.736,15.30],[0.740,15.29],[0.753,15.30],[0.765,15.29],[0.728,15.33],[0.736,15.34],[0.732,15.37],
  [0.755,15.35],[0.763,15.37],[0.744,15.44],[0.734,15.41],[0.763,15.455],
  [0.767,15.16],[0.777,15.19],[0.781,15.26],[0.798,15.20],[0.808,15.21],[0.808,15.24],
  [0.810,15.30],[0.814,15.33],[0.826,15.34],[0.812,15.38],[0.840,15.35],
  [0.840,15.20],[0.863,15.185],[0.863,15.21],[0.869,15.23],[0.863,15.255],
  [0.867,15.29],[0.873,15.30],[0.863,15.32],[0.881,15.33],[0.881,15.35],
  [0.890,15.17],[0.910,15.17],[0.908,15.19],[0.890,15.27],[0.908,15.27],[0.914,15.28],
  [0.908,15.33],[0.926,15.33],[0.926,15.30],[0.920,15.38],[0.941,15.32],
  [0.975,15.235],[0.971,15.31],[0.971,15.325],
  [0.865,15.35],[0.865,15.38],[0.861,15.46],[0.865,15.42],[0.884,15.43],[0.873,15.44],[0.863,15.48],
  [0.912,15.46],[0.926,15.46],[0.926,15.49],[0.971,15.45],[0.982,15.45],[0.976,15.53]
];

// the folded curve is plotted over two cycles: phase-1 and phase
function twoCycles(points) {
  return points.map(function (p) { return [p[0] - 1, p[1]]; }).concat(points);
}

const gAll = twoCycles([].concat(gPrimaryMin, gSecondaryMin, gMaxima, gMaximaCore, gFringe, gOutliers));
const vAll = twoCycles(vPoints);

function commaLabel(v) {
  if (Math.abs(v * 10 - Math.round(v * 10)) > 1e-6) return '';
  if (Math.abs(v) < 1e-9) v = 0;
  return v.toFixed(1).replace('.', ',');
}

var chart = echarts.init(document.getElementById('chart'));

var option = {
  animation: false,
  backgroundColor: '#fff',
  title: [
    {
      text: titleText,
      left: 'center',
      top: 2,
      textStyle: { fontFamily: 'DejaVu Sans', fontWeight: 'bold', fontSize: 19, color: '#000' }
    },
    {
      text: subtitleText,
      left: 'center',
      top: 28,
      textStyle: { fontFamily: 'Liberation Sans', fontWeight: 'bold', fontSize: 11, color: '#000' }
    }
  ],
  legend: {
    orient: 'vertical',
    left: 519,
    top: 505,
    itemGap: 10,
    itemWidth: 7,
    itemHeight: 7,
    data: seriesNames,
    textStyle: { fontFamily: 'DejaVu Sans', fontSize: 14, color: '#000' }
  },
  grid: {
    left: 68,
    right: 12,
    top: 53,
    bottom: 126,
    show: true,
    borderColor: '#808080',
    borderWidth: 1
  },
  xAxis: {
    type: 'value',
    min: -1.1,
    max: 1.1,
    interval: 0.1,
    name: 'Fase',
    nameLocation: 'middle',
    nameGap: 25,
    nameTextStyle: { fontFamily: 'DejaVu Sans', fontWeight: 'bold', fontSize: 12, color: '#444' },
    offset: 4,
    axisLine: { show: true, lineStyle: { color: '#aaa' } },
    axisTick: { show: true, length: 3, lineStyle: { color: '#aaa' } },
    axisLabel: {
      showMinLabel: false,
      showMaxLabel: false,
      margin: 6,
      fontFamily: 'DejaVu Sans',
      fontSize: 10.5,
      color: '#444',
      formatter: commaLabel
    },
    splitLine: { show: false }
  },
  yAxis: {
    type: 'value',
    inverse: true,
    min: 14.865,
    max: 16.266,
    splitNumber: 14,
    name: 'Brillo (magnitud)',
    nameLocation: 'middle',
    nameRotate: 90,
    nameGap: 38,
    nameTextStyle: { fontFamily: 'DejaVu Sans', fontWeight: 'bold', fontSize: 12, color: '#444' },
    offset: 3,
    axisLine: { show: true, lineStyle: { color: '#aaa' } },
    axisTick: { show: true, length: 3, lineStyle: { color: '#aaa' } },
    axisLabel: {
      showMinLabel: false,
      showMaxLabel: false,
      margin: 7,
      fontFamily: 'DejaVu Sans',
      fontSize: 10.5,
      color: '#444',
      formatter: commaLabel
    },
    splitLine: { show: false }
  },
  series: [
    {
      name: seriesNames[1],
      type: 'scatter',
      symbol: 'circle',
      symbolSize: 7,
      itemStyle: { color: '#ffc800' },
      data: gAll,
      z: 2
    },
    {
      name: seriesNames[0],
      type: 'scatter',
      symbol: 'circle',
      symbolSize: 6.5,
      itemStyle: { color: '#0e9bc2' },
      data: vAll,
      z: 3
    }
  ]
};

chart.setOption(option);
</script>
</body>
</html>
